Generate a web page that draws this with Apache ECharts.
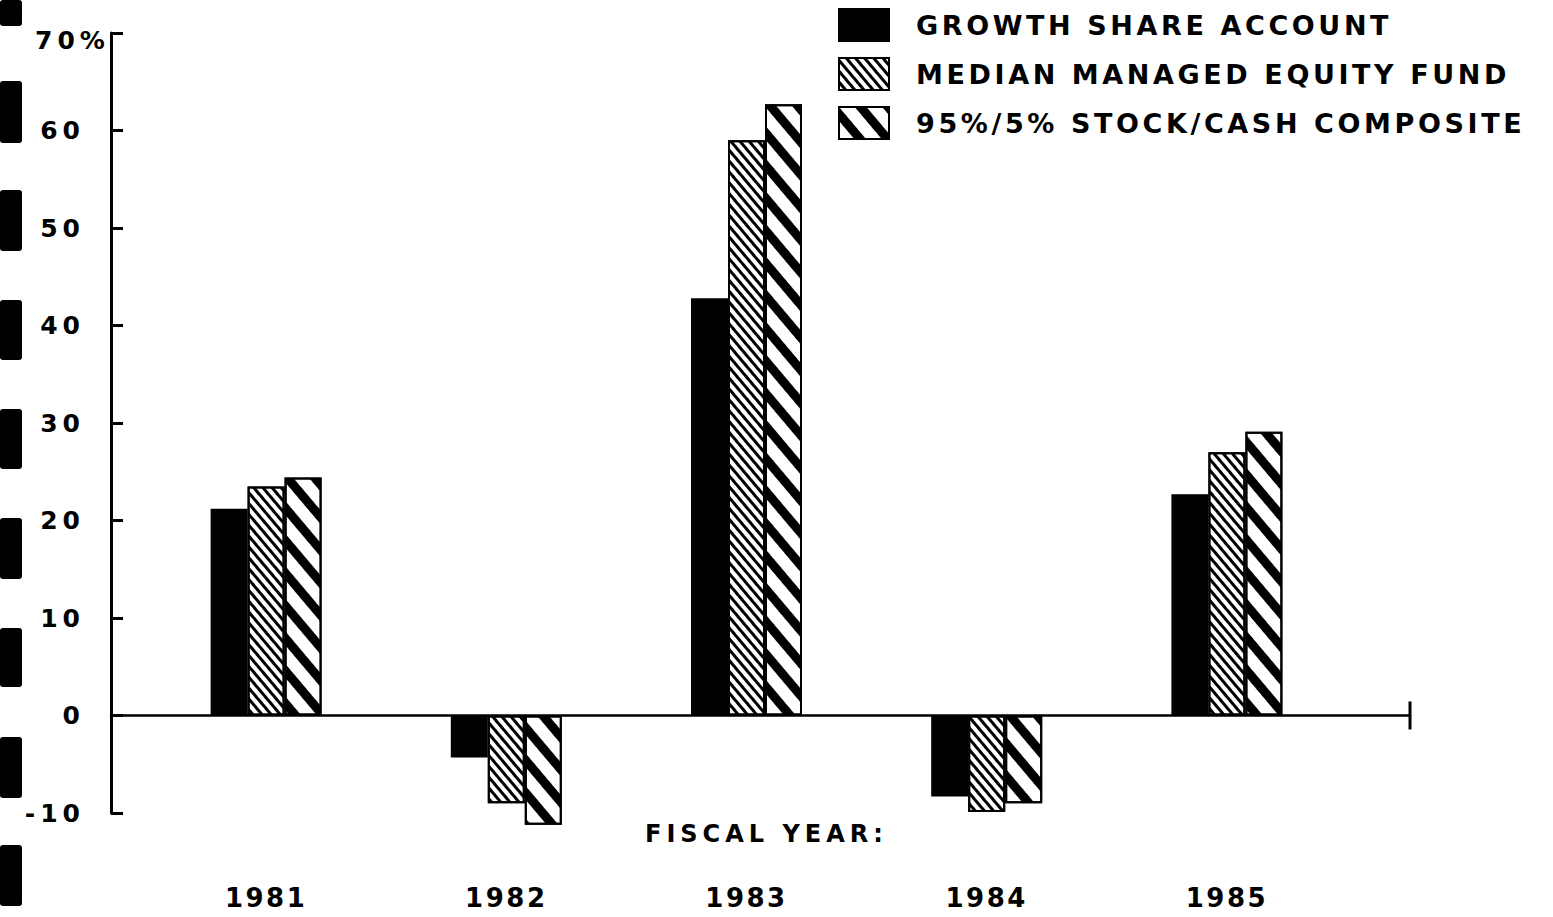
<!DOCTYPE html>
<html>
<head>
<meta charset="utf-8">
<script src="https://cdn.jsdelivr.net/npm/echarts@6/dist/echarts.min.js"></script>
<style>
html, body { margin: 0; padding: 0; background: #fff; }
#chart { width: 1553px; height: 917px; }
/* the typewriter-style lettering is widely spaced */
#chart text[style*="25px"] { letter-spacing: 5px; }
#chart text[style*="26px"] { letter-spacing: 2.5px; }
#chart text[style*="27px"] { letter-spacing: 3.6px; }
#chart text[style*="24px"] { letter-spacing: 5px; }
</style>
</head>
<body>
<div id="chart"></div>
<script>
var FONT = 'DejaVu Sans';

var years = ['1981', '1982', '1983', '1984', '1985'];
var growthShare = [21.2, -4.3, 42.8, -8.3, 22.7];
var medianFund = [23.5, -9.0, 59.0, -9.9, 27.0];
var stockCash = [24.4, -11.2, 62.7, -9.0, 29.1];
var seriesNames = ['GROWTH SHARE ACCOUNT', 'MEDIAN MANAGED EQUITY FUND', '95%/5% STOCK/CASH COMPOSITE'];
var yMin = -10, yMax = 70, yStep = 10;

// punched strip along the left edge of the scan
var holes = [[0, 26], [81, 62], [190, 61], [300, 60], [409, 60], [518, 61], [628, 59], [737, 61], [845, 61]];

var chart = echarts.init(document.getElementById('chart'), null, {renderer: 'svg'});

var boldText = function(size){
	return {fontFamily: FONT, fontWeight: 'bold', fontSize: size, color: '#000'};
};

var barSeries = function(name, data, fill, decal){
	var itemStyle = {color: fill, borderColor: '#000', borderWidth: 2};
	if( decal ){
		itemStyle.decal = decal;
	}
	return {
		name: name,
		type: 'bar',
		xAxisIndex: 0,
		yAxisIndex: 0,
		barWidth: 37,
		barGap: '0%',
		clip: false,
		data: data,
		itemStyle: itemStyle,
		emphasis: {disabled: true}
	};
};

var stripes = function(on, off){
	return {
		symbol: 'rect',
		symbolSize: 1,
		dashArrayX: [1, 0],
		dashArrayY: [on, off],
		rotation: 0.87,
		color: '#000'
	};
};

var option = {
	backgroundColor: '#fff',
	animation: false,
	title: {
		text: 'FISCAL YEAR:',
		left: 640,
		top: 817,
		textStyle: boldText(24)
	},
	legend: {
		orient: 'vertical',
		left: 838,
		top: 8,
		padding: 0,
		itemWidth: 50,
		itemHeight: 32,
		itemGap: 15,
		icon: 'rect',
		selectedMode: false,
		textStyle: Object.assign({padding: [0, 0, 0, 22]}, boldText(27)),
		data: seriesNames
	},
	grid: [
		{left: 146, width: 1201, top: 33, height: 780, containLabel: false, outerBoundsMode: 'none'},
		{left: 111, width: 1299, top: 33, height: 780, containLabel: false, outerBoundsMode: 'none'}
	],
	xAxis: [
		{
			type: 'category',
			gridIndex: 0,
			data: years,
			position: 'bottom',
			axisLine: {show: false, onZero: false},
			axisTick: {show: false},
			axisLabel: Object.assign({margin: 72, interval: 0}, boldText(26))
		},
		{
			type: 'value',
			gridIndex: 1,
			min: 0,
			max: 1,
			axisLine: {
				show: true,
				onZero: true,
				symbol: ['none', 'rect'],
				symbolSize: [28, 3],
				lineStyle: {color: '#000', width: 2.5}
			},
			axisTick: {show: false},
			axisLabel: {show: false},
			splitLine: {show: false}
		}
	],
	yAxis: [
		{type: 'value', gridIndex: 0, min: yMin, max: yMax, interval: yStep, show: false},
		{
			type: 'value',
			gridIndex: 1,
			min: yMin,
			max: yMax,
			interval: yStep,
			axisLine: {show: true, lineStyle: {color: '#000', width: 3}},
			axisTick: {show: true, inside: true, length: 12, lineStyle: {color: '#000', width: 3}},
			splitLine: {show: false},
			axisLabel: Object.assign({
				margin: 26,
				formatter: function(v){
					return v === yMax ? '{p|' + v + '%}' : String(v);
				},
				rich: {
					p: Object.assign({width: 50, align: 'left', padding: [14, 0, 0, 0]}, boldText(25))
				}
			}, boldText(25))
		}
	],
	graphic: holes.map(function(h){
		return {
			type: 'rect',
			shape: {x: 0, y: h[0], width: 22, height: h[1], r: 3},
			style: {fill: '#000'},
			silent: true
		};
	}),
	series: [
		barSeries(seriesNames[0], growthShare, '#000', null),
		barSeries(seriesNames[1], medianFund, '#fff', stripes(3, 4)),
		barSeries(seriesNames[2], stockCash, '#fff', stripes(9, 12))
	]
};

chart.setOption(option);
</script>
</body>
</html>
